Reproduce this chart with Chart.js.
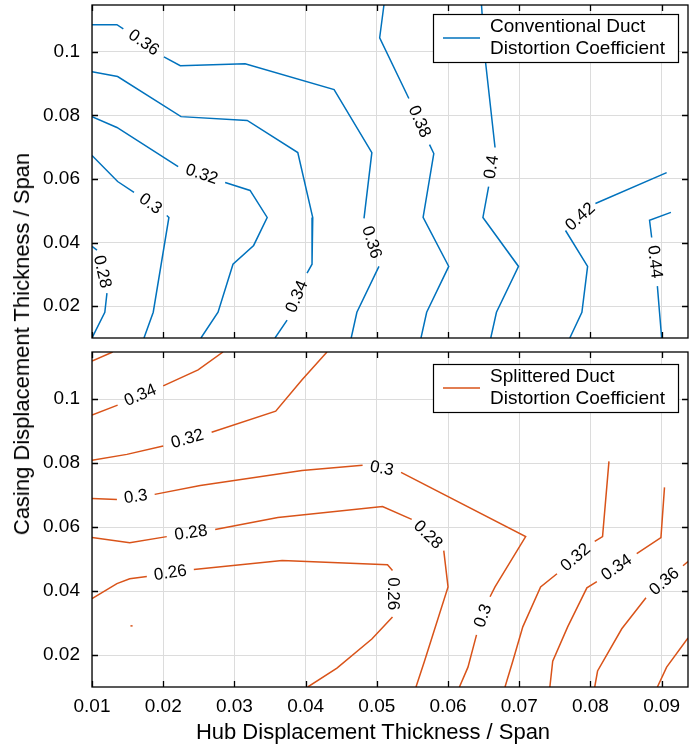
<!DOCTYPE html>
<html>
<head>
<meta charset="utf-8">
<script src="https://cdn.jsdelivr.net/npm/chart.js@4/dist/chart.umd.min.js"></script>
<style>
  body { margin: 0; background: #fff; }
  #wrap { position: relative; width: 694px; height: 749px; font-family: "Liberation Sans", Arial, sans-serif; }
  canvas { position: absolute; left: 0; }
  .atitle { position: absolute; white-space: nowrap; color: #000; transform: translate(-50%, -50%); }
</style>
</head>
<body>
<div id="wrap">
  <canvas id="top-chart" width="694" height="345" style="top:0"></canvas>
  <canvas id="bottom-chart" width="694" height="404" style="top:345px"></canvas>
  <div class="atitle" style="left:22px; top:344px; font-size:22px; transform: translate(-50%, -50%) rotate(-90deg);">Casing Displacement Thickness / Span</div>
  <div class="atitle" style="left:373px; top:732px; font-size:22px;">Hub Displacement Thickness / Span</div>
</div>
<script>
// axis ticks
var xTicks = [0.01, 0.02, 0.03, 0.04, 0.05, 0.06, 0.07, 0.08, 0.09];
var yTicks = [0.02, 0.04, 0.06, 0.08, 0.1];

// conventional duct contours, [hub, casing], null = label gap
var conv028 = [[0.01,0.0388],[0.0107,0.0376],null,[0.0121,0.0241],[0.0118,0.0181],[0.01,0.01]];
var conv030 = [[0.01,0.0674],[0.0136,0.0592],[0.0159,0.0558],null,[0.0205,0.0485],[0.0208,0.0479],[0.0186,0.0181],[0.0173,0.01]];
var conv032 = [[0.01,0.0796],[0.0135,0.0762],[0.0221,0.0639],null,[0.0287,0.0589],[0.0322,0.0564],[0.0346,0.0479],[0.0327,0.0391],[0.0298,0.0332],[0.0277,0.0181],[0.0253,0.01]];
var conv034 = [[0.01,0.0937],[0.0136,0.0922],[0.0225,0.0796],[0.0318,0.0784],[0.0389,0.0683],[0.0410,0.0479],[0.0409,0.0332],[0.0402,0.0304],null,[0.0374,0.0156],[0.0357,0.01]];
var conv036 = [[0.01,0.1085],[0.0135,0.1085],[0.0144,0.1072],null,[0.0201,0.0984],[0.0224,0.0956],[0.0315,0.0962],[0.0440,0.0881],[0.0493,0.0683],[0.0482,0.0476],null,[0.0503,0.0325],[0.0472,0.0181],[0.0464,0.01]];
var conv038 = [[0.0510,0.1147],[0.0504,0.1044],[0.0545,0.0853],null,[0.0574,0.0708],[0.0580,0.0680],[0.0565,0.0479],[0.0601,0.0325],[0.0570,0.0181],[0.0562,0.01]];
var conv040 = [[0.0647,0.1147],[0.0652,0.0981],[0.0666,0.0699],null,[0.0657,0.0576],[0.0649,0.0479],[0.0699,0.0325],[0.0668,0.0181],[0.0660,0.01]];
var conv042 = [[0.0907,0.0620],[0.0807,0.0523],null,[0.0765,0.0438],[0.0796,0.0325],[0.0788,0.0181],[0.0771,0.01]];
var conv044 = [[0.0913,0.0495],[0.0883,0.0470],[0.0886,0.0416],null,[0.0894,0.0263],[0.0897,0.0181],[0.0900,0.01]];

// splittered duct contours
var split024 = [[0.0154,0.0291],[0.0157,0.0291]];
var split026 = [[0.01,0.0376],[0.0135,0.0423],[0.0153,0.0438],[0.0177,0.0445],null,[0.0243,0.0467],[0.0367,0.0495],[0.0515,0.0482],[0.0522,0.0464],null,[0.0522,0.0319],[0.0493,0.0250],[0.0444,0.0159],[0.0403,0.01]];
var split028 = [[0.01,0.0567],[0.0153,0.0551],[0.0205,0.0570],null,[0.0273,0.0592],[0.0361,0.0630],[0.0508,0.0664],[0.0549,0.0624],null,[0.0594,0.0526],[0.0600,0.0413],[0.0567,0.0181],[0.0555,0.01]];
var split030 = [[0.01,0.0689],[0.0135,0.0686],null,[0.0188,0.0702],[0.0252,0.0730],[0.0395,0.0777],[0.0480,0.0793],null,[0.0534,0.0771],[0.0709,0.0570],[0.0666,0.0413],[0.0659,0.0382],null,[0.0640,0.0263],[0.0628,0.0162],[0.0616,0.01]];
var split032a = [[0.01,0.0809],[0.0149,0.0827],[0.0200,0.0853],null,[0.0268,0.0896],[0.0358,0.0962],[0.0395,0.1060],[0.0430,0.1147]];
var split032b = [[0.0826,0.0805],[0.0817,0.0570],[0.0806,0.0555],null,[0.0753,0.0454],[0.0730,0.0413],[0.0705,0.0288],[0.0691,0.0181],[0.0680,0.01]];
var split034a = [[0.01,0.0950],[0.0136,0.0981],null,[0.0200,0.1041],[0.0249,0.1091],[0.0284,0.1147]];
var split034b = [[0.0904,0.0724],[0.0899,0.0567],[0.0865,0.0517],null,[0.0809,0.0429],[0.0795,0.0410],[0.0768,0.0288],[0.0747,0.0181],[0.0743,0.01]];
var split036a = [[0.01,0.1119],[0.0129,0.1147]];
var split036b = [[0.0937,0.0492],[0.0930,0.0479],null,[0.0878,0.0379],[0.0844,0.0282],[0.0810,0.0150],[0.0806,0.01]];
var split038 = [[0.0937,0.0253],[0.0907,0.0162],[0.0894,0.01]];

var FONT = '"Liberation Sans", Arial, sans-serif';

function makeSet(pts, level, color) {
    return {
        level: level,
        data: pts.map(function (p) { return p ? { x: p[0], y: p[1] } : { x: null, y: null }; }),
        borderColor: color,
        borderWidth: 1.5,
        pointRadius: 0,
        fill: false,
        spanGaps: false,
        tension: 0
    };
}

// contour labels drawn in the gaps of each line
var contourLabels = {
    id: 'contourLabels',
    afterDatasetsDraw: function (chart) {
        var ctx = chart.ctx;
        ctx.save();
        ctx.font = '17px ' + FONT;
        ctx.fillStyle = '#000';
        ctx.textAlign = 'center';
        ctx.textBaseline = 'middle';
        chart.data.datasets.forEach(function (ds, di) {
            var els = chart.getDatasetMeta(di).data;
            for (var i = 1; i < ds.data.length - 1; i++) {
                if (ds.data[i].y !== null) continue;
                var a = els[i - 1], b = els[i + 1];
                var dx = b.x - a.x, dy = b.y - a.y;
                if (dx < 0) { dx = -dx; dy = -dy; }
                ctx.save();
                ctx.translate((a.x + b.x) / 2, (a.y + b.y) / 2);
                ctx.rotate(Math.atan2(dy, dx));
                ctx.fillText(String(ds.level), 0, 0);
                ctx.restore();
            }
        });
        ctx.restore();
    }
};

// box, inward ticks on all sides, legend box
var frameBox = {
    id: 'frameBox',
    afterDraw: function (chart) {
        var ctx = chart.ctx;
        var ca = chart.chartArea;
        var xs = chart.scales.x, ys = chart.scales.y;
        ctx.save();
        ctx.strokeStyle = '#000';
        ctx.lineWidth = 1.3;
        ctx.strokeRect(ca.left, ca.top, ca.right - ca.left, ca.bottom - ca.top);
        ctx.beginPath();
        xTicks.forEach(function (v) {
            var px = Math.round(xs.getPixelForValue(v)) + 0.5;
            ctx.moveTo(px, ca.bottom); ctx.lineTo(px, ca.bottom - 6);
            ctx.moveTo(px, ca.top); ctx.lineTo(px, ca.top + 6);
        });
        yTicks.forEach(function (v) {
            var py = Math.round(ys.getPixelForValue(v)) + 0.5;
            ctx.moveTo(ca.left, py); ctx.lineTo(ca.left + 6, py);
            ctx.moveTo(ca.right, py); ctx.lineTo(ca.right - 6, py);
        });
        ctx.stroke();

        var lg = chart.options.plugins.boxLegend;
        var w = 245, h = 48;
        var lx = ca.right - 10 - w, ly = ca.top + lg.offset;
        ctx.fillStyle = '#fff';
        ctx.fillRect(lx, ly, w, h);
        ctx.lineWidth = 1.2;
        ctx.strokeRect(lx + 0.5, ly + 0.5, w, h);
        ctx.strokeStyle = lg.color;
        ctx.lineWidth = 1.5;
        ctx.beginPath();
        ctx.moveTo(lx + 10, ly + h / 2);
        ctx.lineTo(lx + 47, ly + h / 2);
        ctx.stroke();
        ctx.fillStyle = '#000';
        ctx.font = '19px ' + FONT;
        ctx.textBaseline = 'middle';
        ctx.textAlign = 'left';
        ctx.fillText(lg.text[0], lx + 57, ly + h / 2 - 11);
        ctx.fillText(lg.text[1], lx + 57, ly + h / 2 + 11);
        ctx.restore();
    }
};

function makeChart(id, sets, showX, opts) {
    var ctx = document.getElementById(id).getContext("2d");
    return new Chart(ctx, {
        type: "line",
        data: { datasets: sets },
        plugins: [contourLabels, frameBox],
        options: {
            responsive: false,
            animation: false,
            devicePixelRatio: 1,
            layout: { padding: { top: opts.padTop, right: 6, left: 0, bottom: 0 } },
            plugins: {
                legend: { display: false },
                tooltip: { enabled: false },
                boxLegend: { text: opts.legend, color: opts.color, offset: opts.legendOffset }
            },
            scales: {
                x: {
                    type: "linear",
                    min: 0.01,
                    max: 0.0937,
                    afterBuildTicks: function (s) { s.ticks = xTicks.map(function (v) { return { value: v }; }); },
                    afterFit: function (s) {
                        s.height = opts.xHeight;
                        s.paddingLeft = 0; s.paddingRight = 0;
                        s.paddingTop = 0; s.paddingBottom = 0;
                    },
                    grid: { color: "#dcdcdc", lineWidth: 1, drawTicks: false },
                    border: { display: false },
                    ticks: {
                        display: showX,
                        padding: 8,
                        color: "#000",
                        font: { size: 19, family: FONT },
                        maxRotation: 0,
                        autoSkip: false,
                        callback: function (v) { return String(v); }
                    }
                },
                y: {
                    type: "linear",
                    min: 0.01,
                    max: 0.1147,
                    afterBuildTicks: function (s) { s.ticks = yTicks.map(function (v) { return { value: v }; }); },
                    afterFit: function (s) {
                        s.width = 92;
                        s.paddingLeft = 0; s.paddingRight = 0;
                        s.paddingTop = 0; s.paddingBottom = 0;
                    },
                    grid: { color: "#dcdcdc", lineWidth: 1, drawTicks: false },
                    border: { display: false },
                    ticks: {
                        padding: 12,
                        color: "#000",
                        font: { size: 19, family: FONT },
                        autoSkip: false,
                        callback: function (v) { return String(v); }
                    }
                }
            }
        }
    });
}

var blue = "#0072BD";
var orange = "#D95319";

var topSets = [
    makeSet(conv028, 0.28, blue),
    makeSet(conv030, 0.3, blue),
    makeSet(conv032, 0.32, blue),
    makeSet(conv034, 0.34, blue),
    makeSet(conv036, 0.36, blue),
    makeSet(conv038, 0.38, blue),
    makeSet(conv040, 0.4, blue),
    makeSet(conv042, 0.42, blue),
    makeSet(conv044, 0.44, blue)
];

var bottomSets = [
    makeSet(split024, 0.24, orange),
    makeSet(split026, 0.26, orange),
    makeSet(split028, 0.28, orange),
    makeSet(split030, 0.3, orange),
    makeSet(split032a, 0.32, orange),
    makeSet(split032b, 0.32, orange),
    makeSet(split034a, 0.34, orange),
    makeSet(split034b, 0.34, orange),
    makeSet(split036a, 0.36, orange),
    makeSet(split036b, 0.36, orange),
    makeSet(split038, 0.38, orange)
];

makeChart("top-chart", topSets, false, {
    padTop: 5, xHeight: 7, color: blue, legendOffset: 9,
    legend: ["Conventional Duct", "Distortion Coefficient"]
});
makeChart("bottom-chart", bottomSets, true, {
    padTop: 7, xHeight: 62, color: orange, legendOffset: 12,
    legend: ["Splittered Duct", "Distortion Coefficient"]
});
</script>
</body>
</html>
